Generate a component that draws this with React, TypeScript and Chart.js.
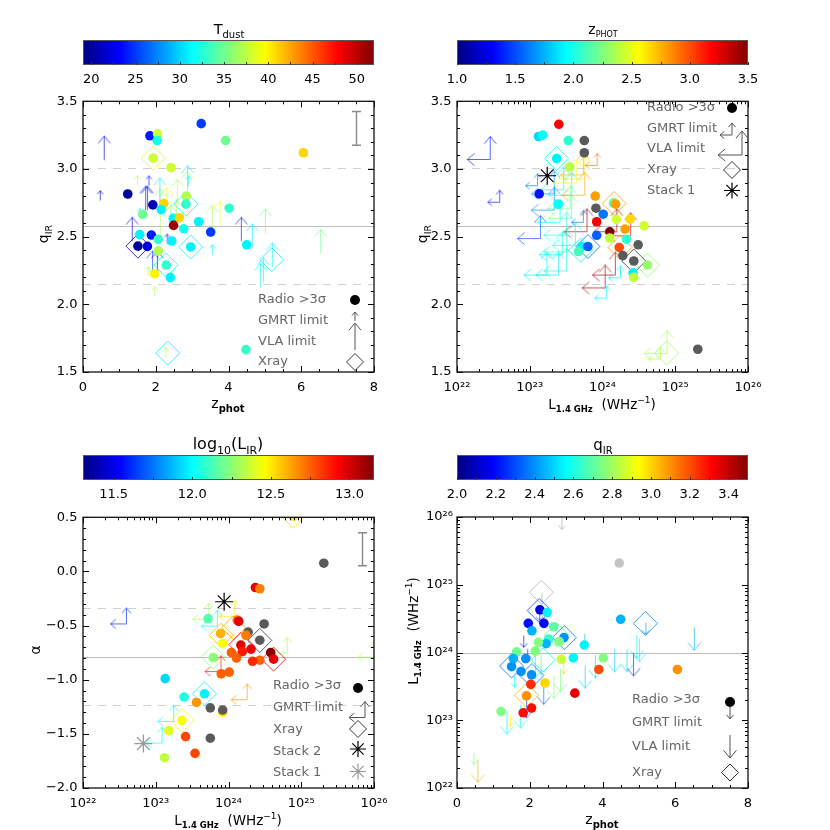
import React, { useEffect, useRef } from 'react';
import { Chart, registerables } from 'chart.js';

Chart.register(...registerables);
Chart.defaults.font.family = "'DejaVu Sans', sans-serif";

// ---------------- colour bars ----------------
const tdustRange = [19.06, 51.95];
const tdustTicks = [20, 25, 30, 35, 40, 45, 50];
const zphotRange = [1.0, 3.5];
const zphotTicks = [1.0, 1.5, 2.0, 2.5, 3.0, 3.5];
const lirRange = [11.305, 13.156];
const lirTicks = [11.5, 12.0, 12.5, 13.0];
const qirRange = [2.0, 3.5];
const qirTicks = [2.0, 2.2, 2.4, 2.6, 2.8, 3.0, 3.2, 3.4];

// ---------------- axis ticks ----------------
const zTicks = [0, 2, 4, 6, 8];
const zTickLabels = ['0', '2', '4', '6', '8'];
const qTicks = [1.5, 2.0, 2.5, 3.0, 3.5];
const qTickLabels = ['1.5', '2.0', '2.5', '3.0', '3.5'];
const alphaTicks = [-2.0, -1.5, -1.0, -0.5, 0.0, 0.5];
const alphaTickLabels = ['−2.0', '−1.5', '−1.0', '−0.5', '0.0', '0.5'];
const lumTickExps = [22, 23, 24, 25, 26];
const lumTickLabels = ['10²²', '10²³', '10²⁴', '10²⁵', '10²⁶'];

// ---------------- reference lines (first solid, rest dashed) ----------------
const qirLines = [2.58, 3.01, 2.15];
const alphaLines = [-0.79, -0.335, -1.235];
const lumLines = [24];

// ---------------- typical error bars [x, y, err] ----------------
const p1ErrBar = [7.5, 3.3, 0.125];
const p3ErrBar = [25.84, 0.205, 0.152];

// ---------------- Panel 1: qIR vs z, colour = Tdust ----------------
const p1Circles = [
  [3.25, 3.335, 25], [1.84, 3.245, 24], [2.05, 3.26, 38], [2.04, 3.21, 32], [3.92, 3.21, 35],
  [6.06, 3.12, 41], [1.93, 3.08, 38], [2.42, 3.01, 38], [1.23, 2.815, 20], [1.92, 2.735, 21],
  [2.22, 2.745, 41], [2.84, 2.8, 37], [2.83, 2.74, 33], [1.64, 2.665, 35], [2.15, 2.7, 31],
  [2.48, 2.635, 31], [2.65, 2.64, 41], [2.49, 2.583, 51], [3.18, 2.61, 31], [4.02, 2.71, 33],
  [2.77, 2.558, 32], [3.51, 2.534, 25], [1.56, 2.515, 31], [1.88, 2.512, 24], [2.07, 2.48, 33],
  [2.44, 2.468, 31], [1.51, 2.43, 20], [1.77, 2.428, 22], [2.96, 2.424, 31], [2.07, 2.395, 37],
  [2.29, 2.29, 33], [1.97, 2.226, 40], [2.4, 2.198, 31], [4.48, 1.665, 33], [4.5, 2.44, 31],
];
const p1Diamonds = [
  [1.93, 3.08, 38], [2.83, 2.74, 32], [1.51, 2.43, 21], [2.96, 2.424, 31], [2.28, 2.29, 32],
  [2.33, 1.64, 31], [5.19, 2.33, 31],
];
const p1Limits = [
  [0.57, 3.07, 22, 'v'], [0.46, 2.77, 21, 'g'], [1.48, 2.88, 37, 'g'], [1.8, 2.88, 24, 'g'],
  [1.71, 2.7, 23, 'v'], [1.76, 2.7, 24, 'v'], [2.1, 2.76, 31, 'v'], [2.1, 2.68, 35, 'v'],
  [2.58, 2.75, 37, 'v'], [2.86, 2.85, 31, 'v'], [2.89, 2.88, 31, 'g'], [2.86, 2.81, 37, 'v'],
  [3.54, 2.56, 37, 'v'], [3.75, 2.59, 39, 'v'], [4.34, 2.47, 24, 'v'], [4.64, 2.42, 31, 'v'],
  [5.0, 2.53, 35, 'v'], [6.52, 2.38, 35, 'v'], [3.54, 2.37, 31, 'g'], [4.87, 2.13, 31, 'v'],
  [4.95, 2.17, 31, 'v'], [1.34, 2.47, 23, 'v'], [1.55, 2.64, 31, 'g'], [1.96, 2.06, 37, 'g'],
  [1.78, 2.21, 37, 'g'], [1.9, 2.22, 25, 'v'], [2.03, 2.22, 21, 'v'], [2.3, 2.45, 24, 'g'],
  [2.4, 2.56, 35, 'v'], [2.11, 2.52, 37, 'v'], [2.27, 1.61, 37, 'g'], [5.19, 2.28, 31, 'v'],
  [2.29, 2.69, 39, 'v'], [2.55, 2.6, 37, 'v'],
];

// ---------------- Panel 2: qIR vs log L1.4, colour = zphot ----------------
const p2Circles = [
  [23.4, 3.33, 3.2], [23.12, 3.24, 1.85], [23.18, 3.25, 1.95], [23.53, 3.21, 2.05], [23.75, 3.21, null],
  [23.75, 3.12, null], [23.37, 3.077, 1.9], [23.55, 3.016, 2.4], [23.13, 2.816, 1.35], [23.39, 2.74, 1.95],
  [23.9, 2.8, 2.8], [23.91, 2.71, null], [24.01, 2.666, 1.6], [24.15, 2.75, 2.2], [24.18, 2.74, 2.8],
  [23.92, 2.61, 3.2], [24.19, 2.627, 2.45], [24.38, 2.63, 2.65], [24.57, 2.58, 2.45], [24.31, 2.556, 2.8],
  [24.1, 2.536, 3.5], [23.92, 2.51, 1.55], [24.33, 2.48, 2.05], [24.49, 2.44, null], [24.23, 2.42, 3.0],
  [24.28, 2.36, null], [24.43, 2.32, null], [24.62, 2.29, 2.3], [24.42, 2.232, 1.9], [24.43, 2.2, 2.4],
  [23.71, 2.427, 1.9], [23.8, 2.427, 1.55], [23.67, 2.39, 2.1], [25.31, 1.668, null], [24.1, 2.49, 2.4],
];
const p2Diamonds = [
  [23.37, 3.077, 1.9], [24.16, 2.745, 2.8], [24.62, 2.29, 2.3], [23.8, 2.427, 1.55], [23.7, 2.4, 1.9],
  [24.88, 1.64, 2.35], [24.24, 2.42, 2.8], [24.43, 2.32, null],
];
const p2Limits = [
  [22.45, 3.074, 1.35, 'v'], [22.58, 2.758, 1.35, 'g'], [23.14, 2.49, 1.5, 'v'], [23.33, 2.7, 1.65, 'v'],
  [23.1, 2.88, 1.6, 'g'], [23.33, 2.82, 1.7, 'v'], [23.57, 2.81, 1.95, 'v'], [23.75, 2.81, 2.8, 'v'],
  [23.75, 2.93, 2.6, 'v'], [23.92, 3.03, 2.9, 'g'], [23.73, 2.96, 2.75, 'v'], [23.55, 2.71, 2.2, 'v'],
  [23.5, 2.515, 2.0, 'v'], [23.44, 2.37, 1.95, 'v'], [23.39, 2.22, 1.9, 'v'], [23.5, 2.25, 2.0, 'v'],
  [24.19, 2.54, 3.4, 'v'], [23.78, 2.54, 3.4, 'v'], [24.03, 2.125, 3.4, 'v'], [24.05, 2.05, 1.9, 'g'],
  [24.24, 2.2, 1.9, 'g'], [24.17, 2.22, 3.4, 'v'], [24.88, 1.64, 2.35, 'v'], [24.79, 1.6, 2.35, 'g'],
  [23.73, 2.61, 1.6, 'g'], [23.62, 2.44, 1.95, 'v'], [24.38, 2.51, 3.3, 'v'], [23.57, 2.64, 2.2, 'v'],
  [23.41, 2.61, 1.95, 'v'], [23.64, 2.9, 2.55, 'v'], [23.5, 2.39, 2.1, 'v'], [23.23, 2.22, 1.9, 'v'],
  [23.46, 2.85, 1.95, 'v'],
];
const p2Stack1 = [[23.24, 2.95]];

// ---------------- Panel 3: alpha vs log L1.4, colour = log LIR ----------------
const p3Circles = [
  [24.89, 0.51, 12.5], [25.31, 0.076, null], [24.37, -0.149, 12.97], [24.43, -0.16, 12.7],
  [23.72, -0.437, 12.15], [24.12, -0.45, 12.7], [24.14, -0.46, 12.97], [24.49, -0.485, null],
  [24.27, -0.56, null], [24.24, -0.59, 12.7], [24.43, -0.635, null], [23.89, -0.574, 12.6],
  [23.92, -0.665, 12.45], [24.17, -0.68, 12.97], [24.31, -0.717, 12.95], [24.19, -0.74, 12.88],
  [24.04, -0.75, 12.75], [24.58, -0.75, 13.15], [24.62, -0.81, 12.97], [24.43, -0.82, 12.75],
  [24.33, -0.83, 12.85], [24.11, -0.8, 12.75], [23.79, -0.796, 12.25], [23.9, -0.945, 12.75],
  [24.01, -0.93, 12.75], [23.13, -0.99, 11.93], [23.39, -1.16, 12.05], [23.67, -1.13, 11.98],
  [23.56, -1.21, 12.65], [23.92, -1.3, 12.5], [23.75, -1.26, null], [23.92, -1.28, null],
  [23.36, -1.375, 12.45], [23.18, -1.47, 12.4], [23.41, -1.525, 12.8], [23.75, -1.54, null],
  [23.54, -1.68, 12.8], [23.12, -1.72, 12.35],
];
const p3Diamonds = [
  [24.89, 0.51, 12.5], [23.9, -0.59, 12.62], [24.07, -0.52, 12.65], [24.17, -0.675, 12.95],
  [24.43, -0.637, null], [24.62, -0.81, 12.97], [23.79, -0.79, 12.25], [23.67, -1.13, 11.98],
  [23.36, -1.375, 12.45],
];
const p3Limits = [
  [22.59, -0.48, 11.6, 'g'], [23.72, -0.437, 12.3, 'g'], [24.08, -0.41, 12.5, 'g'],
  [23.84, -0.5, 12.0, 'g'], [24.8, -0.75, 12.3, 'g'], [23.89, -0.92, 12.9, 'g'],
  [24.25, -1.18, 12.65, 'g'], [23.24, -1.38, 12.0, 'g'], [23.08, -1.58, 12.0, 'g'],
  [25.99, -0.787, 12.3, 'g'],
];
const p3Stack2 = [[23.94, -0.28]];
const p3Stack1 = [[22.83, -1.59]];

// ---------------- Panel 4: log L1.4 vs z, colour = qIR ----------------
const p4Circles = [
  [4.46, 25.32, null], [4.5, 24.49, 2.45], [6.06, 23.75, 3.1], [2.28, 24.63, 2.15], [2.48, 24.59, 2.55],
  [1.96, 24.43, 2.2], [2.39, 24.43, 2.2], [2.06, 24.32, 2.45], [2.66, 24.38, 2.7], [2.94, 24.22, 2.4],
  [2.81, 24.16, 2.75], [2.52, 24.2, 2.65], [2.45, 24.13, 2.45], [2.24, 24.15, 2.75], [2.15, 24.02, 2.75],
  [1.64, 24.01, 2.72], [3.5, 24.11, 2.55], [1.55, 23.91, 2.45], [1.5, 23.79, 2.4], [1.89, 23.91, 2.4],
  [1.76, 23.72, 2.4], [2.05, 23.67, 2.4], [2.87, 23.9, 2.85], [3.2, 23.92, 2.55], [4.02, 23.92, 2.75],
  [3.9, 23.75, 3.2], [2.42, 23.55, 3.0], [2.03, 23.53, 3.25], [1.91, 23.36, 3.1], [3.24, 23.4, 3.35],
  [1.21, 23.13, 2.75], [1.82, 23.11, 3.3], [2.05, 23.18, 3.3],
];
const p4Diamonds = [
  [2.32, 24.89, null], [2.26, 24.62, 2.3], [2.95, 24.22, 2.35], [1.5, 23.8, 2.35], [2.06, 23.66, 2.35],
  [1.91, 23.37, 3.05], [5.18, 24.43, 2.4], [2.37, 23.89, 2.55], [2.74, 24.26, 2.7],
];
const p4Limits = [
  [2.87, 26.0, null, 'g'], [6.51, 24.38, 2.45, 'v'], [2.32, 24.89, null, 'v'], [4.93, 24.26, 2.55, 'v'],
  [4.84, 24.0, 2.25, 'v'], [4.66, 24.06, 2.5, 'v'], [4.32, 24.06, 2.5, 'v'], [3.79, 23.97, 2.5, 'v'],
  [3.51, 23.82, 2.5, 'v'], [3.5, 24.28, 2.45, 'g'], [2.92, 23.87, 3.0, 'g'], [2.83, 23.77, 2.75, 'v'],
  [2.65, 23.67, 2.75, 'v'], [2.37, 23.58, 2.35, 'v'], [2.14, 23.97, 2.55, 'v'], [1.82, 24.26, 2.2, 'g'],
  [1.93, 24.06, 2.2, 'g'], [1.57, 23.67, 2.55, 'g'], [1.36, 23.14, 2.55, 'v'], [1.46, 23.09, 2.95, 'g'],
  [1.73, 23.23, 2.6, 'v'], [0.45, 22.53, 2.75, 'g'], [0.56, 22.43, 3.05, 'v'], [1.9, 23.38, 2.3, 'v'],
  [5.0, 24.21, 2.55, 'v'], [2.26, 24.65, 2.2, 'g'], [5.18, 24.45, 2.4, 'g'], [2.3, 24.01, 2.7, 'v'],
];

// ---------------- helpers ----------------
const FONT = "'DejaVu Sans', sans-serif";
const TICK_FONT = 13;
const LEGEND_FONT = 13;
const seq = (a: number, b: number, s: number) => {
  const out: number[] = [];
  for (let v = a; v <= b + 1e-9; v += s) out.push(+v.toFixed(6));
  return out;
};
const logMinor = (e0: number, e1: number) => {
  const out: number[] = [];
  for (let e = e0; e < e1; e++) for (let m = 2; m <= 9; m++) out.push(m * Math.pow(10, e));
  return out;
};

function jetRGB(t: number) {
  const c = (v: number) => Math.max(0, Math.min(1, v));
  t = c(t);
  return [
    c(Math.min(4 * t - 1.5, -4 * t + 4.5)),
    c(Math.min(4 * t - 0.5, -4 * t + 3.5)),
    c(Math.min(4 * t + 0.5, -4 * t + 2.5)),
  ].map((v) => Math.round(v * 255));
}
function colour(v: any, range: number[], nullColor: string, alpha = 1) {
  if (v === null || v === undefined) return nullColor;
  const [r, g, b] = jetRGB((v - range[0]) / (range[1] - range[0]));
  return alpha < 1 ? `rgba(${r},${g},${b},${alpha})` : `rgb(${r},${g},${b})`;
}

function strokeLimit(ctx: CanvasRenderingContext2D, x: number, y: number, kind: string, len: number, head: number, color: string) {
  ctx.save();
  ctx.strokeStyle = color;
  ctx.lineWidth = 1;
  ctx.beginPath();
  const hh = head * 1.2;
  if (kind === 'up' || kind === 'L') {
    ctx.moveTo(x, y); ctx.lineTo(x, y - len);
    ctx.moveTo(x - head, y - len + hh); ctx.lineTo(x, y - len); ctx.lineTo(x + head, y - len + hh);
  }
  if (kind === 'down') {
    ctx.moveTo(x, y); ctx.lineTo(x, y + len);
    ctx.moveTo(x - head, y + len - hh); ctx.lineTo(x, y + len); ctx.lineTo(x + head, y + len - hh);
  }
  if (kind === 'L') {
    ctx.moveTo(x, y); ctx.lineTo(x - len, y);
    ctx.moveTo(x - len + hh, y - head); ctx.lineTo(x - len, y); ctx.lineTo(x - len + hh, y + head);
  }
  ctx.stroke();
  ctx.restore();
}

const imgCache = new Map<string, HTMLCanvasElement>();
function limitImage(kind: string, len: number, head: number, color: string) {
  const key = `${kind}|${len}|${head}|${color}`;
  if (imgCache.has(key)) return imgCache.get(key)!;
  const S = 2 * Math.ceil(len + head + 3);
  const c = document.createElement('canvas');
  c.width = S; c.height = S;
  const ctx = c.getContext('2d')!;
  strokeLimit(ctx, S / 2 + 0.5, S / 2 + 0.5, kind, len, head, color);
  imgCache.set(key, c);
  return c;
}

type Seg = { t: string; s: number; dy?: number; b?: boolean };
function drawRich(ctx: CanvasRenderingContext2D, segs: Seg[], x: number, y: number, rot = 0, color = '#000') {
  ctx.save();
  ctx.translate(x, y);
  if (rot) ctx.rotate(rot);
  ctx.textBaseline = 'alphabetic';
  ctx.textAlign = 'left';
  ctx.fillStyle = color;
  let w = 0;
  segs.forEach((s) => { ctx.font = `${s.b ? 'bold ' : ''}${s.s}px ${FONT}`; w += ctx.measureText(s.t).width; });
  let cx = -w / 2;
  segs.forEach((s) => {
    ctx.font = `${s.b ? 'bold ' : ''}${s.s}px ${FONT}`;
    ctx.fillText(s.t, cx, s.dy || 0);
    cx += ctx.measureText(s.t).width;
  });
  ctx.restore();
}

const lumTitle: Seg[] = [
  { t: 'L', s: 13.5 }, { t: '1.4 GHz', s: 8.5, dy: 3, b: true }, { t: '  (WHz', s: 13.5 },
  { t: '−1', s: 9, dy: -6 }, { t: ')', s: 13.5 },
];
const zTitle: Seg[] = [{ t: 'z', s: 14 }, { t: 'phot', s: 10, dy: 3.5, b: true }];
const qTitle: Seg[] = [{ t: 'q', s: 14 }, { t: 'IR', s: 9.5, dy: 3.5 }];
const alphaTitle: Seg[] = [{ t: 'α', s: 14 }];

// ---------------- panel definitions ----------------
const panels: any[] = [
  {
    canvas: [0, 88, 415, 332], area: [83, 98, 374, 372],
    xLog: false, yLog: false, xRange: [0, 8], yRange: [1.5, 3.5],
    xTicks: zTicks, xLabels: zTickLabels, yTicks: qTicks, yLabels: qTickLabels,
    xMinor: seq(0, 8, 0.5), yMinor: seq(1.5, 3.5, 0.1),
    cRange: tdustRange, nullColor: '#5a5a5a',
    circles: p1Circles, diamonds: p1Diamonds, limits: p1Limits, limitKind: 'up',
    limitSize: { g: [10, 3], v: [24, 6] }, stars: [],
    refLines: qirLines, errbar: p1ErrBar,
    legendX: 258,
    legend: [
      ['Radio >3σ', 300, ['dot', 355, 300]],
      ['GMRT limit', 321, ['up', 355, 321, 9, 3]],
      ['VLA limit', 342, ['up', 355, 350, 27, 6]],
      ['Xray', 362, ['diamond', 355, 362]],
    ],
    xTitle: zTitle, xTitlePos: [228, 408], yTitle: qTitle, yTitlePos: [48, 234],
  },
  {
    canvas: [400, 88, 430, 332], area: [457, 98, 748, 372],
    xLog: true, yLog: false, xRange: [1e22, 1e26], yRange: [1.5, 3.5],
    xTicks: lumTickExps.map((e) => Math.pow(10, e)), xLabels: lumTickLabels, yTicks: qTicks, yLabels: qTickLabels,
    xMinor: logMinor(22, 26), yMinor: seq(1.5, 3.5, 0.1),
    cRange: zphotRange, nullColor: '#5a5a5a',
    circles: p2Circles, diamonds: p2Diamonds, limits: p2Limits, limitKind: 'L',
    limitSize: { g: [12, 3.5], v: [23, 6] },
    stars: p2Stack1.map((s) => [s[0], s[1], '#000']),
    refLines: qirLines, errbar: null,
    legendX: 647,
    legend: [
      ['Radio >3σ', 108, ['dot', 732, 108]],
      ['GMRT limit', 128.5, ['L', 732, 135, 12, 3.5]],
      ['VLA limit', 149, ['L', 742, 155, 24, 6]],
      ['Xray', 170, ['diamond', 732, 170]],
      ['Stack 1', 190.5, ['star', 732, 190.5, '#000']],
    ],
    xTitle: lumTitle, xTitlePos: [602, 409], yTitle: qTitle, yTitlePos: [427, 234],
  },
  {
    canvas: [0, 504, 415, 326], area: [83, 514, 374, 788],
    xLog: true, yLog: false, xRange: [1e22, 1e26], yRange: [-2.0, 0.5],
    xTicks: lumTickExps.map((e) => Math.pow(10, e)), xLabels: lumTickLabels, yTicks: alphaTicks, yLabels: alphaTickLabels,
    xMinor: logMinor(22, 26), yMinor: seq(-2.0, 0.5, 0.1),
    cRange: lirRange, nullColor: '#5a5a5a',
    circles: p3Circles, diamonds: p3Diamonds, limits: p3Limits, limitKind: 'L',
    limitSize: { g: [16, 4.5], v: [16, 4.5] },
    stars: [...p3Stack2.map((s) => [s[0], s[1], '#000']), ...p3Stack1.map((s) => [s[0], s[1], '#9a9a9a'])],
    refLines: alphaLines, errbar: p3ErrBar,
    legendX: 273,
    legend: [
      ['Radio >3σ', 686, ['dot', 358, 688]],
      ['GMRT limit', 707.5, ['L', 365, 717.5, 16, 4.5]],
      ['Xray', 730, ['diamond', 358, 729]],
      ['Stack 2', 751.5, ['star', 358, 749, '#000']],
      ['Stack 1', 773, ['star', 358, 771.5, '#9a9a9a']],
    ],
    xTitle: lumTitle, xTitlePos: [228, 825], yTitle: alphaTitle, yTitlePos: [40, 650],
  },
  {
    canvas: [400, 504, 430, 326], area: [457, 514, 748, 788],
    xLog: false, yLog: true, xRange: [0, 8], yRange: [1e22, 1e26],
    xTicks: zTicks, xLabels: zTickLabels, yTicks: lumTickExps.map((e) => Math.pow(10, e)), yLabels: lumTickLabels,
    xMinor: seq(0, 8, 0.5), yMinor: logMinor(22, 26),
    cRange: qirRange, nullColor: '#c4c4c4',
    circles: p4Circles, diamonds: p4Diamonds, limits: p4Limits, limitKind: 'down',
    limitSize: { g: [12, 3.5], v: [23, 6.5] }, stars: [],
    refLines: lumLines, errbar: null,
    legendX: 632,
    legend: [
      ['Radio >3σ', 700, ['dot', 730, 702]],
      ['GMRT limit', 722.5, ['down', 730, 707, 12, 3.5]],
      ['VLA limit', 747, ['down', 730, 735, 23, 6.5]],
      ['Xray', 772.5, ['diamond', 730, 772.5]],
    ],
    xTitle: zTitle, xTitlePos: [602, 824], yTitle: lumTitle, yTitlePos: [418, 631],
  },
];

const colourbars: any[] = [
  { canvas: [0, 0, 415, 88], area: [83, 40, 374, 65], range: tdustRange, ticks: tdustTicks,
    labels: tdustTicks.map((v) => String(v)), minor: seq(20, 50, 2.5),
    title: [{ t: 'T', s: 14.5 }, { t: 'dust', s: 10, dy: 3.5 }], titlePos: [229, 34] },
  { canvas: [400, 0, 430, 88], area: [457, 40, 748, 65], range: zphotRange, ticks: zphotTicks,
    labels: zphotTicks.map((v) => v.toFixed(1)), minor: seq(1.0, 3.5, 0.25),
    title: [{ t: 'z', s: 14 }, { t: 'PHOT', s: 8, dy: 2.5 }], titlePos: [603, 34] },
  { canvas: [0, 420, 415, 84], area: [83, 455, 374, 480], range: lirRange, ticks: lirTicks,
    labels: lirTicks.map((v) => v.toFixed(1)), minor: seq(11.5, 13.0, 0.25),
    title: [{ t: 'log', s: 16 }, { t: '10', s: 11, dy: 4.5 }, { t: '(L', s: 16 }, { t: 'IR', s: 11, dy: 4.5 }, { t: ')', s: 16 }],
    titlePos: [228, 449] },
  { canvas: [400, 420, 430, 84], area: [457, 455, 748, 480], range: qirRange, ticks: qirTicks,
    labels: qirTicks.map((v) => v.toFixed(1)), minor: seq(2.0, 3.4, 0.1),
    title: [{ t: 'q', s: 15 }, { t: 'IR', s: 10, dy: 3.5 }], titlePos: [603, 450] },
];

// ---------------- chart builders ----------------
function axisOpts(type: string, min: number, max: number, vals: number[], labels: string[], isX: boolean, size: number, pad: number) {
  return {
    type, min, max, position: isX ? 'bottom' : 'left',
    grid: { display: false, drawTicks: false },
    border: { display: false },
    ticks: {
      autoSkip: false, maxRotation: 0, minRotation: 0, padding: pad, color: '#000',
      font: { family: FONT, size: TICK_FONT },
      callback: (_v: any, i: number) => labels[i] ?? '',
    },
    afterBuildTicks: (s: any) => { s.ticks = vals.map((v) => ({ value: v })); },
    afterFit: (s: any) => { if (isX) s.height = size; else s.width = size; },
  };
}

function framePlugin(p: any) {
  const [L, T] = p.canvas;
  const yv = (v: number) => (p.yLog ? Math.pow(10, v) : v);
  const xv = (v: number) => (p.xLog ? Math.pow(10, v) : v);
  return {
    id: 'frame',
    beforeDatasetsDraw(chart: any) {
      const { ctx, chartArea: a } = chart;
      const y = chart.scales.y;
      ctx.save();
      ctx.beginPath();
      ctx.rect(a.left, a.top, a.right - a.left, a.bottom - a.top);
      ctx.clip();
      p.refLines.forEach((v: number, i: number) => {
        const py = Math.round(y.getPixelForValue(yv(v))) + 0.5;
        ctx.beginPath();
        ctx.strokeStyle = i === 0 ? '#bdbdbd' : '#d0d0d0';
        ctx.lineWidth = 1;
        ctx.setLineDash(i === 0 ? [] : [8, 7]);
        ctx.moveTo(a.left, py); ctx.lineTo(a.right, py);
        ctx.stroke();
      });
      ctx.restore();
    },
    afterDatasetsDraw(chart: any) {
      const { ctx, chartArea: a } = chart;
      const x = chart.scales.x, y = chart.scales.y;
      ctx.save();
      if (p.errbar) {
        const [ex, ey, ee] = p.errbar;
        const px = Math.round(x.getPixelForValue(xv(ex))) + 0.5;
        const y0 = y.getPixelForValue(yv(ey - ee)), y1 = y.getPixelForValue(yv(ey + ee));
        ctx.strokeStyle = '#8a8a8a'; ctx.lineWidth = 1.4;
        ctx.beginPath();
        ctx.moveTo(px, y0); ctx.lineTo(px, y1);
        ctx.moveTo(px - 4.5, y0); ctx.lineTo(px + 4.5, y0);
        ctx.moveTo(px - 4.5, y1); ctx.lineTo(px + 4.5, y1);
        ctx.stroke();
      }
      ctx.strokeStyle = '#000'; ctx.lineWidth = 1;
      ctx.beginPath();
      const tickX = (v: number, len: number) => {
        const px = Math.round(x.getPixelForValue(v)) + 0.5;
        if (px < a.left - 0.5 || px > a.right + 0.5) return;
        ctx.moveTo(px, a.bottom); ctx.lineTo(px, a.bottom - len);
        ctx.moveTo(px, a.top); ctx.lineTo(px, a.top + len);
      };
      const tickY = (v: number, len: number) => {
        const py = Math.round(y.getPixelForValue(v)) + 0.5;
        if (py < a.top - 0.5 || py > a.bottom + 0.5) return;
        ctx.moveTo(a.left, py); ctx.lineTo(a.left + len, py);
        ctx.moveTo(a.right, py); ctx.lineTo(a.right - len, py);
      };
      p.xMinor.forEach((v: number) => tickX(v, 3));
      p.xTicks.forEach((v: number) => tickX(v, 6));
      p.yMinor.forEach((v: number) => tickY(v, 3));
      p.yTicks.forEach((v: number) => tickY(v, 6));
      ctx.stroke();
      ctx.lineWidth = 1.3;
      ctx.strokeStyle = '#111';
      ctx.strokeRect(a.left, a.top, a.right - a.left, a.bottom - a.top);
      ctx.font = `${LEGEND_FONT}px ${FONT}`;
      ctx.textBaseline = 'middle';
      ctx.textAlign = 'left';
      p.legend.forEach(([text, ty, sym]: any) => {
        ctx.fillStyle = '#666';
        ctx.fillText(text, p.legendX - L, ty - T);
        const sx = sym[1] - L, sy = sym[2] - T;
        if (sym[0] === 'dot') {
          ctx.beginPath(); ctx.fillStyle = '#000'; ctx.arc(sx, sy, 5, 0, Math.PI * 2); ctx.fill();
        } else if (sym[0] === 'diamond') {
          ctx.beginPath(); ctx.strokeStyle = '#333'; ctx.lineWidth = 1;
          ctx.moveTo(sx, sy - 8.5); ctx.lineTo(sx + 8.5, sy); ctx.lineTo(sx, sy + 8.5); ctx.lineTo(sx - 8.5, sy); ctx.closePath();
          ctx.stroke();
        } else if (sym[0] === 'star') {
          ctx.beginPath(); ctx.strokeStyle = sym[3]; ctx.lineWidth = 1.2;
          for (let k = 0; k < 4; k++) {
            const ang = (k * Math.PI) / 4;
            ctx.moveTo(sx - 8 * Math.cos(ang), sy - 8 * Math.sin(ang));
            ctx.lineTo(sx + 8 * Math.cos(ang), sy + 8 * Math.sin(ang));
          }
          ctx.stroke();
        } else {
          strokeLimit(ctx, sx, sy, sym[0], sym[3], sym[4], '#555');
        }
      });
      drawRich(ctx, p.xTitle, p.xTitlePos[0] - L, p.xTitlePos[1] - T);
      drawRich(ctx, p.yTitle, p.yTitlePos[0] - L, p.yTitlePos[1] - T, -Math.PI / 2);
      ctx.restore();
    },
  };
}

function makePanelConfig(p: any) {
  const [L, T, W, H] = p.canvas;
  const [x0, y0, x1, y1] = p.area;
  const xv = (v: number) => (p.xLog ? Math.pow(10, v) : v);
  const yv = (v: number) => (p.yLog ? Math.pow(10, v) : v);
  const pts = (arr: any[]) => arr.map((d) => ({ x: xv(d[0]), y: yv(d[1]) }));
  const datasets: any[] = [
    {
      label: 'stack', data: pts(p.stars), pointStyle: 'star', pointRadius: 9,
      pointBorderColor: p.stars.map((s: any) => s[2]), pointBorderWidth: 1.2, order: 1, clip: 0,
    },
    {
      label: 'radio', data: pts(p.circles), pointStyle: 'circle', pointRadius: 4.8,
      pointBackgroundColor: p.circles.map((d: any) => colour(d[2], p.cRange, p.nullColor)),
      pointBorderWidth: 0, order: 2, clip: 0,
    },
    {
      label: 'xray', data: pts(p.diamonds), pointStyle: 'rectRot', pointRadius: 12,
      pointBorderColor: p.diamonds.map((d: any) => colour(d[2], p.cRange, p.nullColor, 0.8)),
      pointBackgroundColor: 'rgba(0,0,0,0)', pointBorderWidth: 1, order: 3, clip: 0,
    },
    {
      label: 'limits', data: pts(p.limits), pointRadius: 5,
      pointStyle: p.limits.map((d: any) => {
        const [len, head] = p.limitSize[d[3]];
        return limitImage(p.limitKind, len, head, colour(d[2], p.cRange, p.nullColor, 0.65));
      }),
      order: 4, clip: 0,
    },
  ];
  return {
    type: 'scatter',
    data: { datasets },
    options: {
      animation: false, responsive: false, maintainAspectRatio: false, events: [],
      layout: { padding: { left: 0, top: y0 - T, right: L + W - x1, bottom: 0 } },
      plugins: { legend: { display: false }, tooltip: { enabled: false } },
      scales: {
        x: axisOpts(p.xLog ? 'logarithmic' : 'linear', p.xRange[0], p.xRange[1], p.xTicks, p.xLabels, true, T + H - y1, 8),
        y: axisOpts(p.yLog ? 'logarithmic' : 'linear', p.yRange[0], p.yRange[1], p.yTicks, p.yLabels, false, x0 - L, p.yLog ? 4 : 5.5),
      },
    },
    plugins: [framePlugin(p)],
  };
}

function makeColourbarConfig(cb: any) {
  const [L, T, W, H] = cb.canvas;
  const [x0, y0, x1, y1] = cb.area;
  const plugin = {
    id: 'cbar',
    afterDraw(chart: any) {
      const { ctx, chartArea: a } = chart;
      const x = chart.scales.x;
      ctx.save();
      for (let px = Math.floor(a.left); px < a.right; px++) {
        const v = x.getValueForPixel(px + 0.5);
        ctx.fillStyle = colour(v, cb.range, '#000');
        ctx.fillRect(px, a.top, 1, a.bottom - a.top);
      }
      ctx.strokeStyle = '#555'; ctx.lineWidth = 1;
      ctx.strokeRect(a.left + 0.5, a.top + 0.5, a.right - a.left - 1, a.bottom - a.top - 1);
      ctx.beginPath(); ctx.strokeStyle = '#333';
      cb.minor.forEach((v: number) => {
        const px = Math.round(x.getPixelForValue(v)) + 0.5;
        ctx.moveTo(px, a.bottom); ctx.lineTo(px, a.bottom - 3);
      });
      ctx.stroke();
      drawRich(ctx, cb.title, cb.titlePos[0] - L, cb.titlePos[1] - T);
      ctx.restore();
    },
  };
  return {
    type: 'scatter',
    data: { datasets: [] },
    options: {
      animation: false, responsive: false, maintainAspectRatio: false, events: [],
      layout: { padding: { left: x0 - L, top: y0 - T, right: L + W - x1, bottom: 0 } },
      plugins: { legend: { display: false }, tooltip: { enabled: false } },
      scales: {
        x: axisOpts('linear', cb.range[0], cb.range[1], cb.ticks, cb.labels, true, T + H - y1, 7),
        y: { display: false, min: 0, max: 1 },
      },
    },
    plugins: [plugin],
  };
}

function ChartCanvas({ box, make }: { box: number[]; make: () => any }) {
  const ref = useRef<HTMLCanvasElement>(null);
  useEffect(() => {
    const chart = new Chart(ref.current as HTMLCanvasElement, make());
    return () => chart.destroy();
  }, []);
  return (
    <canvas
      ref={ref}
      width={box[2]}
      height={box[3]}
      style={{ position: 'absolute', left: box[0], top: box[1], width: box[2], height: box[3] }}
    />
  );
}

export default function App() {
  return (
    <div style={{ position: 'absolute', left: 0, top: 0, width: 830, height: 830, background: '#fff', overflow: 'hidden' }}>
      {colourbars.map((cb, i) => (
        <ChartCanvas key={'cb' + i} box={cb.canvas} make={() => makeColourbarConfig(cb)} />
      ))}
      {panels.map((p, i) => (
        <ChartCanvas key={'p' + i} box={p.canvas} make={() => makePanelConfig(p)} />
      ))}
    </div>
  );
}
